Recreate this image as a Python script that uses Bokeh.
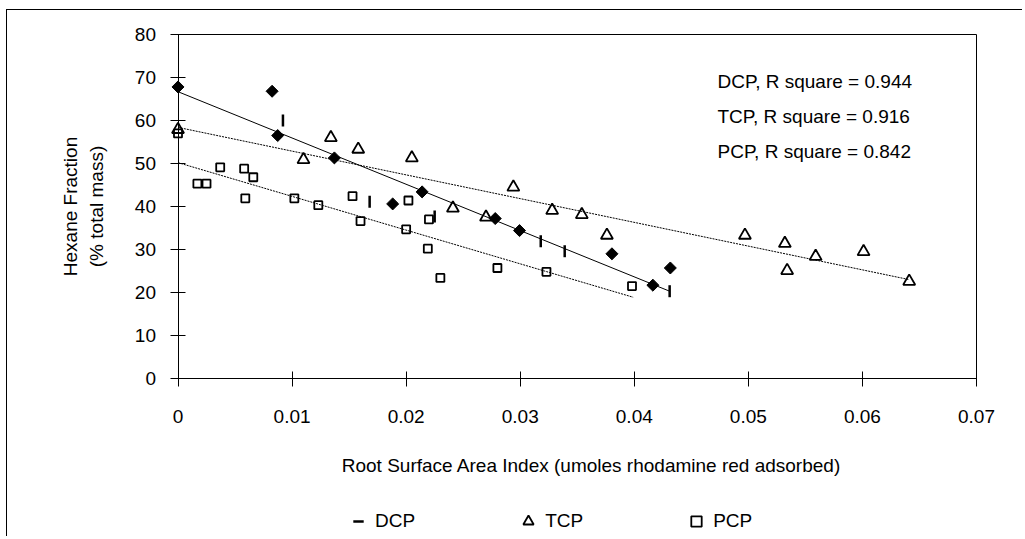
import numpy as np
from bokeh.plotting import figure
from bokeh.models import FixedTicker, Label, Legend, LegendItem
from bokeh.embed import file_html
from bokeh.resources import INLINE
from bokeh.core.properties import value

# ---------------- data ----------------
dcp_x = [0.0092, 0.0168, 0.0225, 0.0318, 0.0339, 0.0431]
dcp_y = [60.0, 41.1, 37.7, 31.9, 29.6, 20.3]

dcp_mean_x = [0.0, 0.00825, 0.00874, 0.01371, 0.01882, 0.0214, 0.02781, 0.02994, 0.03804, 0.04163, 0.04316]
dcp_mean_y = [67.8, 66.8, 56.5, 51.3, 40.6, 43.4, 37.2, 34.4, 29.0, 21.7, 25.7]

tcp_x = [0.0, 0.0110, 0.0134, 0.0158, 0.0205, 0.0241, 0.0270, 0.0294, 0.0328, 0.0354,
         0.0376, 0.0497, 0.0532, 0.0534, 0.0559, 0.0601, 0.0641]
tcp_y = [57.9, 50.9, 56.0, 53.3, 51.3, 39.6, 37.5, 44.5, 39.1, 38.1,
         33.3, 33.3, 31.4, 25.1, 28.4, 29.5, 22.6]

pcp_x = [0.0, 0.0017, 0.0025, 0.0037, 0.0058, 0.0059, 0.0066, 0.0102, 0.0123, 0.0153,
         0.0160, 0.0200, 0.0202, 0.0219, 0.0220, 0.0230, 0.0280, 0.0323, 0.0398]
pcp_y = [57.0, 45.3, 45.3, 49.1, 48.8, 41.9, 46.8, 41.9, 40.3, 42.4,
         36.6, 34.7, 41.4, 30.2, 37.0, 23.4, 25.7, 24.8, 21.5]

dcp_fit_x = [0.0, 0.0431]
dcp_fit_y = [66.7, 20.3]
tcp_fit_x = [0.0, 0.0641]
tcp_fit_y = [58.4, 23.0]
pcp_fit_x = [0.0, 0.0399]
pcp_fit_y = [50.2, 18.9]

x_ticks = [0.0, 0.01, 0.02, 0.03, 0.04, 0.05, 0.06, 0.07]
x_tick_labels = ["0", "0.01", "0.02", "0.03", "0.04", "0.05", "0.06", "0.07"]
y_ticks = [0, 10, 20, 30, 40, 50, 60, 70, 80]

r2_labels = ["DCP, R square = 0.944", "TCP, R square = 0.916", "PCP, R square = 0.842"]
legend_labels = ["DCP", "TCP", "PCP"]
x_title = "Root Surface Area Index (umoles rhodamine red adsorbed)"
y_title = ["Hexane Fraction", "(% total mass)"]

FONT = "Liberation Sans"
FS = "19px"

# ---------------- layout geometry (page pixels) ----------------
W, H = 1016, 527
CANVAS_X, CANVAS_Y = 8, 11          # canvas origin on the page (after css margin+border)
LEFT, TOP = 50, 12                  # side panels
FRAME_L, FRAME_T = CANVAS_X + LEFT, CANVAS_Y + TOP
FRAME_R, FRAME_B = CANVAS_X + W, CANVAS_Y + H
X0_PX, X_SCALE = 178.5, 798.5 / 0.07   # page px of x = 0, px per unit
Y0_PX, Y_SCALE = 379.0, 4.3            # page px of y = 0, px per unit


def fx(px):
    return (px - X0_PX) / X_SCALE


def fy(py):
    return (Y0_PX - py) / Y_SCALE


p = figure(width=W, height=H, x_range=(fx(FRAME_L), fx(FRAME_R)),
           y_range=(fy(FRAME_B), fy(FRAME_T)), x_axis_location="above",
           output_backend="svg", toolbar_location=None,
           min_border_left=LEFT, min_border_right=0, min_border_top=TOP, min_border_bottom=0)
p.styles = {"margin-left": "6px", "margin-top": "9px",
            "border-left": "1px solid black", "border-top": "1px solid black"}
p.outline_line_color = None
p.grid.visible = False
p.background_fill_color = "white"
p.border_fill_color = "white"

# y axis (drawn at x = 0, labels inside the frame)
ya = p.yaxis[0]
ya.fixed_location = 0
ya.bounds = (y_ticks[0], y_ticks[-1])
ya.ticker = FixedTicker(ticks=y_ticks)
ya.axis_line_color = "black"
ya.major_tick_line_color = "black"
ya.major_tick_in = 7
ya.major_tick_out = 8
ya.minor_tick_line_color = None
ya.major_label_standoff = 14
ya.major_label_text_font = FONT
ya.major_label_text_font_size = FS
ya.major_label_text_color = "black"

# x axis line + crossing ticks at y = 0 (labels drawn as text below)
xa = p.xaxis[0]
xa.fixed_location = 0
xa.bounds = (x_ticks[0], x_ticks[-1])
xa.ticker = FixedTicker(ticks=x_ticks)
xa.axis_line_color = "black"
xa.major_tick_line_color = "black"
xa.major_tick_in = 8
xa.major_tick_out = 7
xa.minor_tick_line_color = None
xa.major_label_standoff = 0
xa.major_label_text_font_size = "0px"
xa.major_label_text_alpha = 0

p.text(x=x_ticks, y=[fy(410)] * len(x_ticks), text=x_tick_labels,
       text_font=value(FONT), text_font_size=value(FS), text_color="black",
       text_align="center", text_baseline="top")

# plot-area border (top and right)
p.line([x_ticks[0], x_ticks[-1], x_ticks[-1]], [y_ticks[-1], y_ticks[-1], y_ticks[0]],
       line_color="black", line_width=1)

# axis titles
p.add_layout(Label(x=fx(592), y=fy(466), text=x_title, text_font=FONT, text_font_size=FS,
                   text_color="black", text_align="center", text_baseline="alphabetic"))
for cx, t in zip((71, 97), y_title):
    p.add_layout(Label(x=fx(cx), y=fy(207), text=t, angle=np.pi / 2, text_font=FONT,
                       text_font_size=FS, text_color="black", text_align="center",
                       text_baseline="middle"))

# regression lines
p.line(dcp_fit_x, dcp_fit_y, line_color="black", line_width=1)
p.line(tcp_fit_x, tcp_fit_y, line_color="black", line_width=1, line_dash="2 1")
p.line(pcp_fit_x, pcp_fit_y, line_color="black", line_width=1, line_dash="2 1")

# markers
r_pcp = p.scatter(pcp_x, pcp_y, marker="square", size=8, fill_alpha=0,
                  line_color="black", line_width=1.8)
r_tcp = p.scatter(tcp_x, tcp_y, marker="triangle", size=12, fill_alpha=0,
                  line_color="black", line_width=1.8)
r_dcp = p.scatter(dcp_x, dcp_y, marker="dash", angle=np.pi / 2, size=12,
                  line_color="black", line_width=2.5)
p.scatter(dcp_mean_x, dcp_mean_y, marker="square", angle=np.pi / 4, size=8.5,
          fill_color="black", line_color="black")

# R square labels
for py, t in zip((82, 117, 152), r2_labels):
    p.add_layout(Label(x=fx(718), y=fy(py), text=t, text_font=FONT,
                       text_font_size=FS, text_color="black", text_baseline="alphabetic"))

# legend (inside the frame, at the bottom)
legend = Legend(items=[LegendItem(label=legend_labels[0], renderers=[r_dcp]),
                       LegendItem(label=legend_labels[1], renderers=[r_tcp]),
                       LegendItem(label=legend_labels[2], renderers=[r_pcp])],
                orientation="horizontal", location=(346 - FRAME_L, 3), spacing=100,
                glyph_width=26, glyph_height=26, label_standoff=4, padding=0, margin=0,
                border_line_color=None, background_fill_alpha=0,
                label_text_font=FONT, label_text_font_size=FS, label_text_color="black")
p.add_layout(legend)

open("out.html", "w").write(file_html(p, INLINE))
